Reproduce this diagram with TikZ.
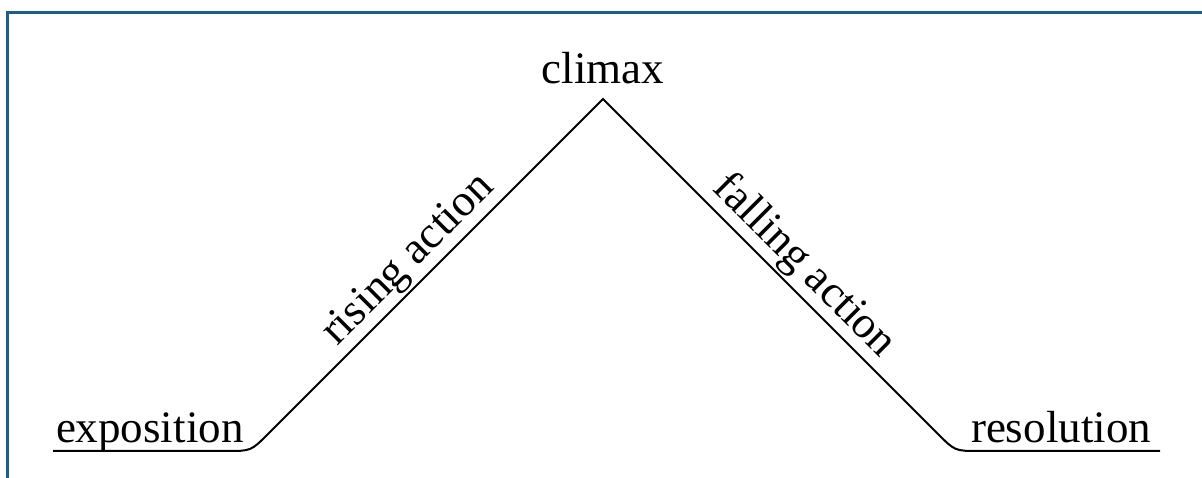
\documentclass[tikz,border=0pt]{standalone}
\usepackage{fontspec}
\setmainfont{Liberation Serif}
\definecolor{framecol}{RGB}{27,96,136}
\begin{document}
\begin{tikzpicture}[x=1pt,y=1pt,line width=2pt]
\useasboundingbox (0,0) rectangle (1202,478);
\draw[framecol,line width=3pt] (7,0) -- (7,465) -- (1202,465);

\coordinate (start) at (53,27);
\coordinate (riseA) at (227,27);
\coordinate (rise) at (251,27);
\coordinate (riseB) at (268,44);
\coordinate (top) at (603,379);
\coordinate (fallA) at (938,44);
\coordinate (fall) at (955,27);
\coordinate (fallB) at (979,27);
\coordinate (end) at (1160,27);

\fontsize{45}{54}\selectfont
\draw (start) -- (riseA) .. controls (rise) .. (riseB)
  -- node[pos=0.47,sloped,above,inner sep=2pt] (rising) {rising action} (top)
  -- node[pos=0.55,sloped,above,inner sep=2pt] (falling) {falling action} (fallA)
  .. controls (fall) .. (fallB) -- (end);

\node[anchor=base west,inner sep=0pt] (expo) at (55,35) {exposition};
\node[anchor=base,inner sep=0pt] (climax) at (603,394) {climax};
\node[anchor=base east,inner sep=0pt] (resol) at (1152,35) {resolution};
\end{tikzpicture}
\end{document}
